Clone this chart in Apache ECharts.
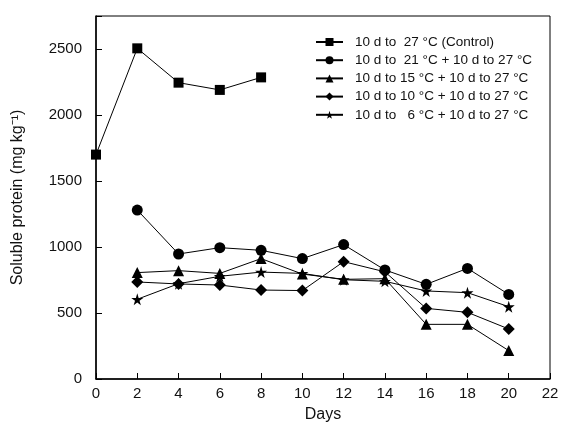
<!DOCTYPE html>
<html>
<head>
<meta charset="utf-8">
<script src="https://cdn.jsdelivr.net/npm/echarts@6/dist/echarts.min.js"></script>
<style>
  html, body { margin: 0; padding: 0; background: #fff; }
  #main { width: 573px; height: 430px; }
</style>
</head>
<body>
<div id="main"></div>
<script>
// soluble protein vs days, 5 temperature treatments
var controlDays = [0, 2, 4, 6, 8];
var days = [2, 4, 6, 8, 10, 12, 14, 16, 18, 20];

var control = [1700, 2505, 2245, 2190, 2285];
var t21 = [1280, 947, 995, 975, 912, 1018, 826, 717, 838, 641];
var t15 = [806, 821, 800, 912, 795, 755, 760, 414, 414, 215];
var t10 = [735, 720, 712, 674, 670, 889, 812, 535, 505, 379];
var t6 = [604, 722, 778, 810, 800, 752, 740, 667, 654, 548];

var names = [
  '10 d to  27 °C (Control)',
  '10 d to  21 °C + 10 d to 27 °C',
  '10 d to 15 °C + 10 d to 27 °C',
  '10 d to 10 °C + 10 d to 27 °C',
  '10 d to   6 °C + 10 d to 27 °C'
];

var FONT = '"Liberation Sans Narrow", "Liberation Sans", sans-serif';
var starPath = 'path://M50,0 L61,35 L98,35 L68,57 L79,91 L50,70 L21,91 L32,57 L2,35 L39,35 Z';

function pairs(xs, ys) {
  var out = [];
  for (var i = 0; i < xs.length; i++) {
    out.push([xs[i], ys[i]]);
  }
  return out;
}

function mkSeries(name, xs, ys, symbol, size) {
  return {
    name: name,
    type: 'line',
    data: pairs(xs, ys),
    symbol: symbol,
    symbolSize: size,
    showAllSymbol: true,
    lineStyle: { color: '#000', width: 1 },
    itemStyle: { color: '#000' },
    emphasis: { disabled: true }
  };
}

var chart = echarts.init(document.getElementById('main'));

var option = {
  backgroundColor: '#fff',
  animation: false,
  textStyle: { fontFamily: FONT },
  grid: {
    left: 96, right: 23, top: 16, bottom: 51,
    show: true, borderColor: '#000', borderWidth: 1
  },
  legend: {
    orient: 'vertical',
    left: 310,
    top: 30,
    itemWidth: 27,
    itemHeight: 10,
    itemGap: 4.2,
    textStyle: { fontFamily: FONT, fontSize: 13.5, color: '#111', padding: [0, 0, 0, 7] },
    data: names
  },
  xAxis: {
    type: 'value',
    min: 0, max: 22, interval: 2,
    name: 'Days',
    nameLocation: 'middle',
    nameGap: 28,
    nameTextStyle: { fontFamily: FONT, fontSize: 16, color: '#111' },
    axisLine: { lineStyle: { color: '#000', width: 1.5 } },
    axisTick: { inside: true, length: 6, lineStyle: { color: '#000' } },
    axisLabel: { fontFamily: FONT, fontSize: 15, color: '#111', margin: 7 },
    splitLine: { show: false }
  },
  yAxis: {
    type: 'value',
    min: 0, max: 2750, interval: 500,
    name: 'Soluble protein (mg kg⁻¹)',
    nameLocation: 'middle',
    nameGap: 70,
    nameTextStyle: { fontFamily: FONT, fontSize: 16, color: '#111' },
    axisLine: { lineStyle: { color: '#000', width: 1.5 } },
    axisTick: { inside: true, length: 6, lineStyle: { color: '#000' } },
    axisLabel: {
      fontFamily: FONT, fontSize: 15, color: '#111', margin: 14,
      formatter: function (v) { return v % 500 === 0 ? String(v) : ''; }
    },
    splitLine: { show: false }
  },
  series: [
    mkSeries(names[0], controlDays, control, 'rect', 10),
    mkSeries(names[1], days, t21, 'circle', 11),
    mkSeries(names[2], days, t15, 'triangle', 11),
    mkSeries(names[3], days, t10, 'diamond', 12),
    mkSeries(names[4], days, t6, starPath, 12)
  ]
};

chart.setOption(option);
</script>
</body>
</html>
